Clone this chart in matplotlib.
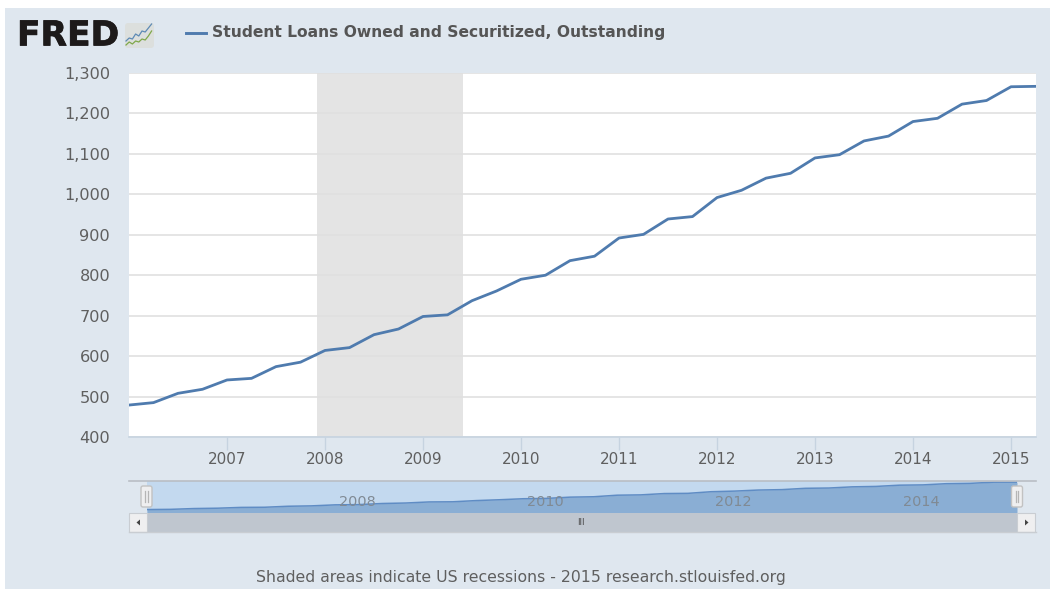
import matplotlib
matplotlib.use("Agg")
import matplotlib.pyplot as plt
from matplotlib.patches import Rectangle, FancyBboxPatch, Polygon
import matplotlib.patheffects as pe

W, H = 1050, 589
quarters = [2006 + i * 0.25 for i in range(38)]
loans = [479, 485, 508, 518, 541, 545, 574, 585,
         614, 621, 653, 667, 698, 702, 737, 761,
         790, 800, 836, 847, 892, 901, 939, 945,
         992, 1010, 1040, 1052, 1090, 1098, 1132, 1144,
         1180, 1188, 1223, 1232, 1266, 1267]
recession_start, recession_end = 2007.915, 2009.41
y_ticks = [400, 500, 600, 700, 800, 900, 1000, 1100, 1200, 1300]
x_ticks = [2007, 2008, 2009, 2010, 2011, 2012, 2013, 2014, 2015]
nav_ticks = [2008, 2010, 2012, 2014]
series_name = "Student Loans Owned and Securitized, Outstanding"
footer = "Shaded areas indicate US recessions - 2015 research.stlouisfed.org"
icon_a = [1.5, 3, 2.5, 5, 4, 6.5, 6, 8, 10]
icon_b = [0.5, 2, 1, 2.5, 2, 3.5, 3, 5, 7.5]

PANEL = "#dfe7ef"
LINE = "#4f7bae"
TXT = "#5f5f5f"


def rect(x0, y0, x1, y1):
    return [x0 / W, 1 - y1 / H, (x1 - x0) / W, (y1 - y0) / H]


fig = plt.figure(figsize=(W / 100, H / 100), dpi=100, facecolor="white")

# Pixel-space chrome layer
bg = fig.add_axes([0, 0, 1, 1], zorder=0)
bg.set_xlim(0, W)
bg.set_ylim(H, 0)
bg.axis("off")
bg.add_patch(Rectangle((5, 8), W - 5, H - 8, fc=PANEL, ec="none"))

# Main chart
ax = fig.add_axes(rect(129, 73, 1036, 437), zorder=1, facecolor="white")
ax.set_xlim(2006, 2015.255)
ax.set_ylim(400, 1300)
ax.axvspan(recession_start, recession_end, color="#e4e4e4", lw=0, zorder=1)
ax.set_yticks(y_ticks)
ax.set_yticklabels([f"{v:,}" for v in y_ticks])
ax.set_xticks(x_ticks)
ax.grid(axis="y", color="#e0e0e0", lw=1.2, zorder=2)
ax.plot(quarters, loans, color=LINE, lw=2.0, solid_joinstyle="round", zorder=3)
for s in ax.spines.values():
    s.set_visible(False)
ax.spines["bottom"].set_visible(True)
ax.spines["bottom"].set_color("#c6d3e0")
ax.spines["bottom"].set_linewidth(1.2)
ax.tick_params(axis="x", length=9.4, width=1, color="#c6d3e0", labelsize=11, labelcolor=TXT, pad=1.5)
ax.tick_params(axis="y", length=0, labelsize=11.6, labelcolor=TXT, pad=13.5)

# Navigator
nav = fig.add_axes(rect(147, 481, 1017, 513), zorder=1, facecolor="#c3d9ef")
nav.set_xlim(2006, 2015.25)
nav.set_ylim(380, 1300)
nav.fill_between(quarters, loans, 380, color="#8aaed4", lw=0)
nav.plot(quarters, loans, color="#5f8cc4", lw=1.1)
nav.set_xticks([])
nav.set_yticks([])
for s in nav.spines.values():
    s.set_visible(False)
for y in nav_ticks:
    nav.text(y + 0.235, 0.33, str(y), transform=nav.get_xaxis_transform(), ha="center", va="center",
             fontsize=10.4, color="#808a94")

# Overlay chrome
top = fig.add_axes([0, 0, 1, 1], zorder=3, facecolor="none")
top.set_xlim(0, W)
top.set_ylim(H, 0)
top.axis("off")
top.plot([129, 1036], [481, 481], color="#b9bec4", lw=1.2)
top.add_patch(Rectangle((147, 513), 870, 19, fc="#bfc6cf", ec="none"))
top.plot([129, 1036], [532.3, 532.3], color="#c9cdd2", lw=1)
for x0, x1, tri in [(129, 147, [(140, 519.5), (140, 525.5), (136.5, 522.5)]),
                    (1017, 1035, [(1025, 519.5), (1025, 525.5), (1028.5, 522.5)])]:
    top.add_patch(Rectangle((x0, 513), x1 - x0, 19, fc="#efeff0", ec="#c9cdd2", lw=0.8))
    top.add_patch(Polygon(tri, fc="#444444", ec="none"))
for cx in (146.5, 1017):
    top.add_patch(FancyBboxPatch((cx - 5.5, 486), 11, 21, boxstyle="round,pad=0,rounding_size=2",
                                 fc="#efeff0", ec="#c2c2c2", lw=1))
    top.plot([cx - 1.3, cx - 1.3], [491, 502], color="#b5b5b5", lw=0.9)
    top.plot([cx + 1.3, cx + 1.3], [491, 502], color="#b5b5b5", lw=0.9)
top.text(581, 522.5, "III", ha="center", va="center", fontsize=6, color="#444444")

# Logo
top.text(17, 36, "FRED", fontsize=24.8, fontweight="bold", family="DejaVu Sans", color="#1d1a1a",
         va="center", ha="left", path_effects=[pe.withStroke(linewidth=0.5, foreground="#1d1a1a")])
top.add_patch(FancyBboxPatch((125, 23), 29, 25, boxstyle="round,pad=0,rounding_size=3",
                             fc="#dcdfdd", ec="none"))
top.plot([126 + 3.2 * i for i in range(9)], [44 - 2 * v for v in icon_a], color="#5d8ab5", lw=0.9)
top.plot([126 + 3.2 * i for i in range(9)], [46 - 2 * v for v in icon_b], color="#7fa84a", lw=0.9)

# Legend and footer
top.plot([186, 206], [33, 33], color=LINE, lw=2.1)
top.text(212.5, 33, series_name, fontsize=11.2, fontweight="bold", color="#555555", va="center", ha="left")
top.text(521, 577.5, footer, fontsize=11.35, color=TXT, va="center", ha="center")

fig.savefig("out.png", dpi=100)
